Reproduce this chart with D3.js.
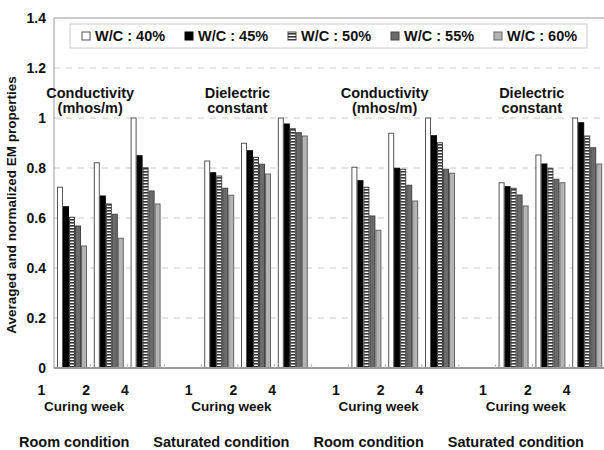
<!DOCTYPE html>
<html><head><meta charset="utf-8">
<script src="https://cdn.jsdelivr.net/npm/d3@7"></script>
<style>body{margin:0;background:#fff}svg{display:block}text{font-family:"Liberation Sans",Arial,sans-serif;font-weight:bold;fill:#111}</style>
</head><body>
<script>
const series = ["W/C : 40%","W/C : 45%","W/C : 50%","W/C : 55%","W/C : 60%"];
const sections = ["Room condition","Saturated condition","Room condition","Saturated condition"];
const sectionNotes = [["Conductivity","(mhos/m)"],["Dielectric","constant"],["Conductivity","(mhos/m)"],["Dielectric","constant"]];
const weeks = ["1","2","4"];
// values[section][week] = [40%,45%,50%,55%,60%]
const values = [
  [[0.723,0.645,0.603,0.568,0.488],[0.821,0.688,0.656,0.615,0.519],[1.0,0.849,0.801,0.708,0.656]],
  [[0.828,0.781,0.768,0.719,0.691],[0.899,0.869,0.843,0.815,0.776],[1.0,0.976,0.957,0.941,0.928]],
  [[0.803,0.749,0.723,0.608,0.551],[0.939,0.799,0.795,0.731,0.668],[1.0,0.929,0.901,0.795,0.779]],
  [[0.741,0.725,0.719,0.692,0.648],[0.852,0.816,0.799,0.755,0.741],[1.0,0.981,0.928,0.881,0.816]]
];
const yTicks = [0,0.2,0.4,0.6,0.8,1,1.2,1.4];
const yLabel = "Averaged and normalized EM properties";
const xLabel = "Curing week";

const W=604,H=450;
const svg=d3.select("body").append("svg").attr("width",W).attr("height",H);
const defs=svg.append("defs");
const pat=defs.append("pattern").attr("id","hatch").attr("patternUnits","userSpaceOnUse").attr("width",4).attr("height",3);
pat.append("rect").attr("width",4).attr("height",3).attr("fill","#fff");
pat.append("rect").attr("width",4).attr("height",1.6).attr("fill","#333");
const fills=["#fff","#000","url(#hatch)","#6a6a6a","#b4b4b4"];
const strokes=["#555","#000","#444","#444","#666"];

// slots: each section has 3 weeks + one empty gap slot
const slots=[];
sections.forEach((s,i)=>{weeks.forEach(w=>slots.push(i+"_"+w)); if(i<sections.length-1) slots.push("gap"+i);});
const plotL=54, step=36.8, plotT=18, plotB=368;
const x=d3.scaleBand().domain(slots).range([plotL,plotL+step*slots.length]).padding(0);
const x1=d3.scaleBand().domain(series).range([3,33]).padding(0);
const y=d3.scaleLinear().domain([0,1.4]).range([plotB,plotT]);

// grid
svg.append("g").selectAll("line").data(yTicks.filter(t=>t>0&&t<1.4)).join("line")
  .attr("x1",plotL).attr("x2",W).attr("y1",d=>y(d)).attr("y2",d=>y(d))
  .attr("stroke","#c8c8c8").attr("stroke-width",1).attr("stroke-dasharray","6,6");
// border
svg.append("path").attr("d",`M${plotL},${plotB}V${y(1.4)}H${W}`).attr("fill","none").attr("stroke","#999").attr("stroke-width",1);

// bars
const gBars=svg.append("g");
sections.forEach((s,si)=>{
  weeks.forEach((w,wi)=>{
    const g=gBars.append("g").attr("transform",`translate(${x(si+"_"+w)},0)`);
    g.selectAll("rect").data(values[si][wi]).join("rect")
      .attr("x",(d,i)=>x1(series[i])+0.5).attr("width",x1.bandwidth()-1)
      .attr("y",d=>y(d)).attr("height",d=>y(0)-y(d))
      .attr("fill",(d,i)=>fills[i]).attr("stroke",(d,i)=>strokes[i]).attr("stroke-width",1);
  });
});

// x axis line + category ticks
svg.append("line").attr("x1",plotL).attr("x2",W).attr("y1",plotB).attr("y2",plotB).attr("stroke","#999").attr("stroke-width",2);
svg.append("g").selectAll("line").data(slots.slice(1)).join("line")
  .attr("x1",d=>x(d)).attr("x2",d=>x(d)).attr("y1",plotB).attr("y2",plotB-4).attr("stroke","#bbb");

// y axis labels
const ya=svg.append("g").attr("transform",`translate(${plotL},0)`)
  .call(d3.axisLeft(y).tickValues(yTicks).tickSize(0).tickPadding(8).tickFormat(d=>d3.format("~g")(d)));
ya.select(".domain").remove();
ya.selectAll("text").attr("font-size",14).style("font-family","Liberation Sans, Arial, sans-serif").style("font-weight","bold").attr("fill","#111");

svg.append("text").attr("transform",`translate(16,${(plotT+plotB)/2+12}) rotate(-90)`)
  .attr("text-anchor","middle").attr("font-size",13.5).text(yLabel);

// week labels, "Curing week", conditions, notes
const weekOff={"1":-31,"2":-23,"4":-21};
sections.forEach((s,si)=>{
  weeks.forEach(w=>{
    const cx=x(si+"_"+w)+x.bandwidth()/2;
    svg.append("text").attr("x",cx+weekOff[w]).attr("y",395).attr("text-anchor","middle").attr("font-size",14).text(w);
  });
  const mid=x(si+"_2")+x.bandwidth()/2;
  svg.append("text").attr("x",mid-25).attr("y",411).attr("text-anchor","middle").attr("font-size",13.5).text(xLabel);
  svg.append("text").attr("x",mid-35).attr("y",447).attr("text-anchor","middle").attr("font-size",14.5).text(s);
  sectionNotes[si].forEach((t,k)=>{
    svg.append("text").attr("x",mid-19).attr("y",98+k*15).attr("text-anchor","middle").attr("font-size",14.5).text(t);
  });
});

// legend
const lg=svg.append("g");
lg.append("rect").attr("x",70).attr("y",24).attr("width",517).attr("height",24).attr("fill","#fff").attr("stroke","#ccc");
const li=lg.selectAll("g").data(series).join("g").attr("transform",(d,i)=>`translate(${82+i*103},36)`);
li.append("rect").attr("x",0).attr("y",-4).attr("width",8).attr("height",8)
  .attr("fill",(d,i)=>fills[i]).attr("stroke",(d,i)=>strokes[i]);
li.append("text").attr("x",13).attr("y",5).attr("font-size",14.5).text(d=>d);
</script>
</body></html>
